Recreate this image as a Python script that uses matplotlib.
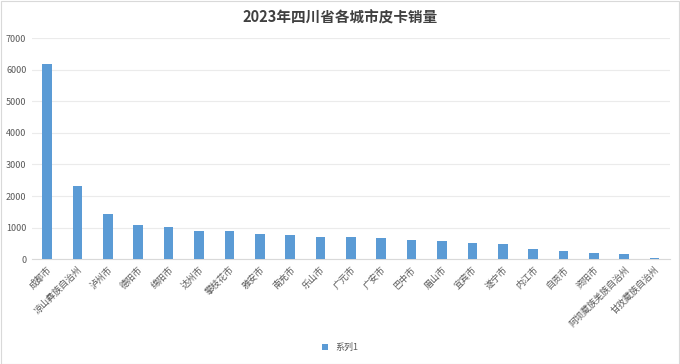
import matplotlib
matplotlib.use("Agg")
import matplotlib.pyplot as plt
from matplotlib.patches import Rectangle

plt.rcParams["font.family"] = ["Noto Sans CJK SC", "DejaVu Sans"]

# 各城市及销量
cities = [
    "成都市", "凉山彝族自治州", "泸州市", "德阳市", "绵阳市", "达州市", "攀枝花市",
    "雅安市", "南充市", "乐山市", "广元市", "广安市", "巴中市", "眉山市", "宜宾市",
    "遂宁市", "内江市", "自贡市", "资阳市", "阿坝藏族羌族自治州", "甘孜藏族自治州",
]
sales = [6180, 2320, 1445, 1085, 1022, 905, 886, 791, 759, 720, 720,
         665, 620, 570, 506, 475, 316, 263, 200, 168, 50]
yticks = [0, 1000, 2000, 3000, 4000, 5000, 6000, 7000]

BAR_COLOR = "#5B9BD5"
TEXT_COLOR = "#595959"

fig = plt.figure(figsize=(6.8, 3.64), dpi=100)
fig.patch.set_facecolor("white")
ax = fig.add_axes([0.047, 0.2876, 0.938, 0.608])

x = range(len(cities))
ax.bar(x, sales, width=0.32, color=BAR_COLOR, label="系列1", zorder=3)

ax.set_xlim(-0.5, len(cities) - 0.5)
ax.set_ylim(0, 7000)
ax.set_yticks(yticks)
ax.set_yticklabels([str(v) for v in yticks], fontsize=6.5, color=TEXT_COLOR)
ax.set_xticks(list(x))
ax.set_xticklabels(cities, rotation=45, ha="right", rotation_mode="anchor",
                   fontsize=6.5, color=TEXT_COLOR)
ax.tick_params(axis="both", length=0, pad=4)
ax.grid(axis="y", color="#EBEBEB", linewidth=0.8, zorder=0)
for side in ["top", "right", "left"]:
    ax.spines[side].set_visible(False)
ax.spines["bottom"].set_color("#D9D9D9")
ax.spines["bottom"].set_linewidth(0.8)

fig.suptitle("2023年四川省各城市皮卡销量", fontsize=10.5, fontweight="bold",
             color="#404040", y=0.975)

fig.legend(loc="center", bbox_to_anchor=(0.5, 0.045), frameon=False,
           fontsize=6.5, handlelength=0.7, handleheight=0.7,
           labelcolor=TEXT_COLOR)

# 外框
fig.add_artist(Rectangle((0.001, 0.001), 0.997, 0.997, transform=fig.transFigure,
                         fill=False, edgecolor="#D9D9D9", linewidth=0.8))

fig.savefig("out.png", dpi=100, facecolor="white")
